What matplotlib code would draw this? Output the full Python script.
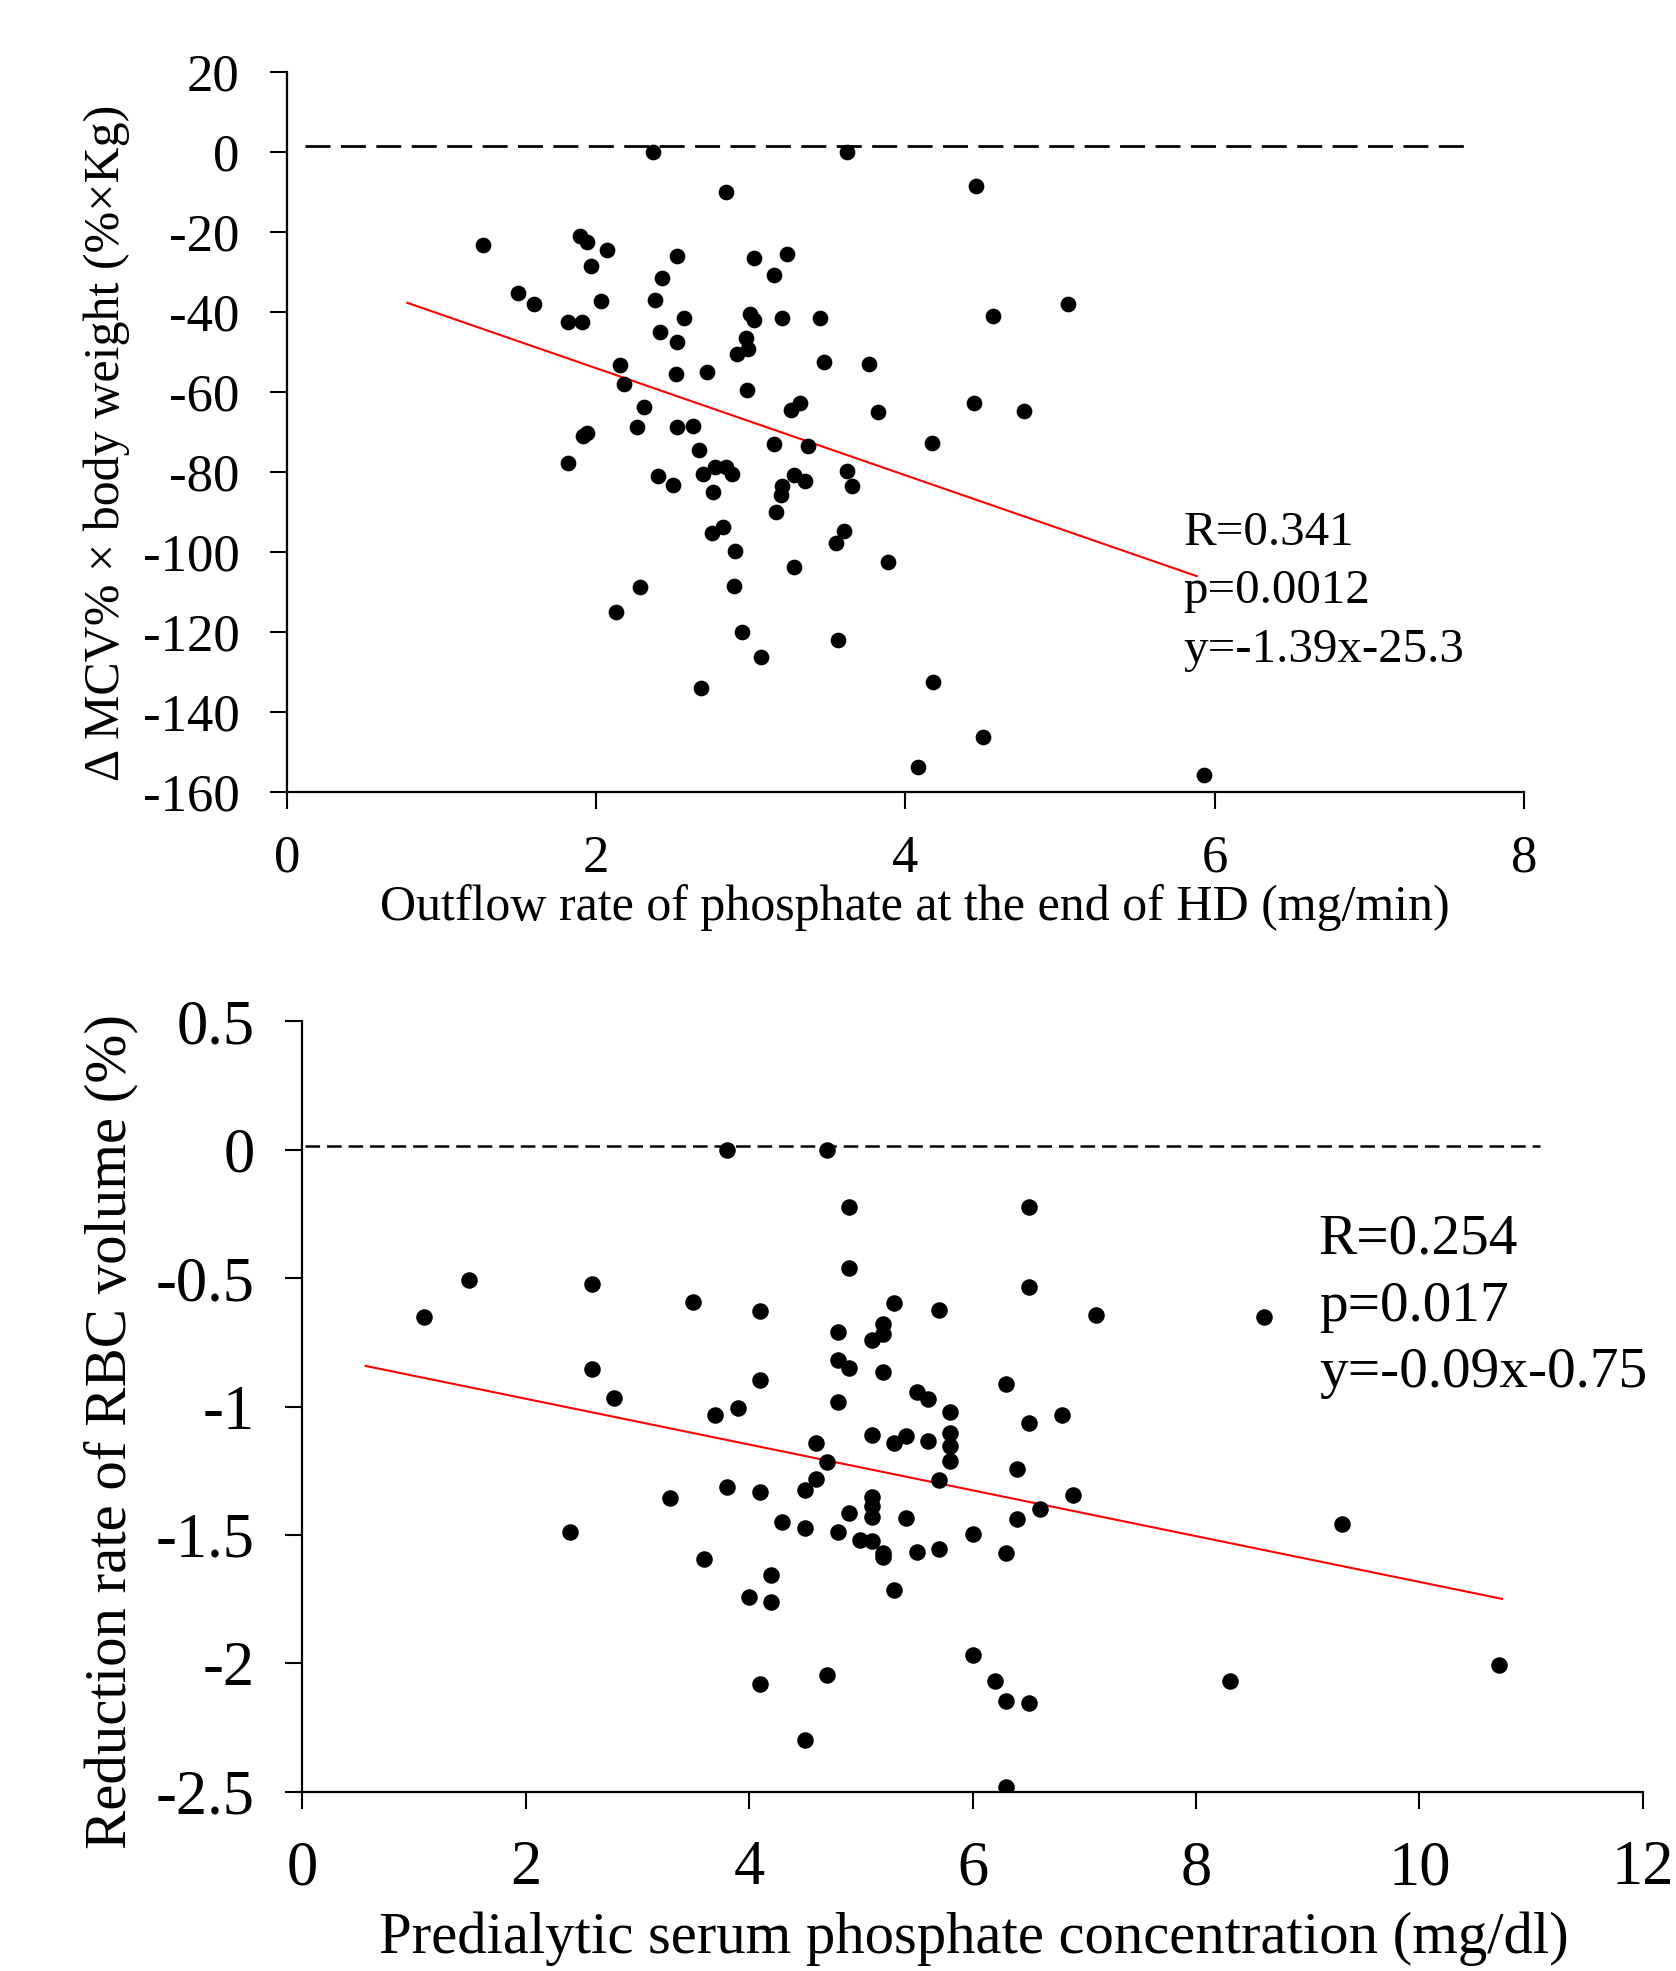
import matplotlib
matplotlib.use("Agg")
import matplotlib.pyplot as plt
import numpy as np

plt.rcParams['font.family'] = ['Liberation Serif', 'DejaVu Serif']
plt.rcParams['lines.scale_dashes'] = False

# ---------------- Top panel data ----------------
top_x = [2.370, 3.620, 2.838, 4.454, 1.267, 1.896, 1.943, 2.068, 1.967, 2.521,
         2.424, 3.023, 3.238, 3.152, 1.497, 1.600, 2.032, 2.381, 5.050, 1.820,
         1.911, 2.570, 2.995, 3.023, 3.204, 3.447, 4.568, 2.411, 2.521, 2.967,
         2.984, 2.909, 3.473, 3.764, 2.152, 2.518, 2.715, 2.180, 2.973, 3.316,
         3.260, 3.824, 4.447, 4.765, 2.312, 2.267, 2.521, 2.624, 1.913, 1.943,
         2.665, 3.148, 3.370, 4.171, 1.820, 2.398, 2.499, 2.693, 2.768, 2.840,
         2.881, 2.758, 3.282, 3.351, 3.200, 3.197, 3.161, 3.620, 3.656, 2.823,
         2.747, 2.898, 3.605, 3.549, 3.282, 3.889, 2.282, 2.889, 2.131, 2.941,
         3.566, 3.066, 2.676, 4.176, 4.503, 4.079, 5.930]
top_y = [0.0, 0.0, -10.1, -8.6, -23.2, -21.0, -22.4, -24.5, -28.4, -26.1,
         -31.4, -26.5, -25.5, -30.7, -35.3, -37.9, -37.2, -37.0, -38.0, -42.5,
         -42.5, -41.4, -40.5, -42.0, -41.4, -41.4, -41.0, -45.0, -47.4, -46.5,
         -49.2, -50.4, -52.4, -53.0, -53.2, -55.6, -54.9, -58.0, -59.6, -62.7,
         -64.5, -65.0, -62.8, -64.8, -63.8, -68.8, -68.8, -68.5, -70.9, -70.1,
         -74.4, -73.0, -73.5, -72.8, -77.7, -81.0, -83.1, -80.4, -78.8, -78.6,
         -80.4, -85.0, -80.7, -82.1, -83.4, -85.7, -90.0, -79.8, -83.4, -93.7,
         -95.3, -99.8, -94.8, -97.8, -103.8, -102.5, -108.8, -108.5, -115.0, -120.0,
         -122.0, -126.3, -134.0, -132.5, -146.3, -153.8, -155.8]
top_fit_x = [0.78, 5.885]
top_fit_y = [-37.7, -106.0]
top_ref_x = [0.12, 7.62]
top_ref_y = [1.5, 1.5]
top_stats = ["R=0.341", "p=0.0012", "y=-1.39x-25.3"]
top_xticks = [0, 2, 4, 6, 8]
top_yticks = [20, 0, -20, -40, -60, -80, -100, -120, -140, -160]
top_xlabel = "Outflow rate of phosphate at the end of HD (mg/min)"
top_ylabel = "\u0394 MCV% \u00d7 body weight (%\u00d7Kg)"

# ---------------- Bottom panel data ----------------
bot_x = [3.800, 4.695, 4.897, 6.503, 4.897, 1.495, 2.594, 6.503, 3.495, 5.297,
         5.700, 4.098, 7.106, 1.090, 8.610, 4.796, 5.202, 5.202, 5.100, 4.796,
         4.897, 2.594, 5.202, 4.098, 6.300, 2.793, 4.796, 5.500, 5.605, 3.898,
         3.695, 5.802, 6.801, 6.503, 5.100, 5.297, 5.402, 5.602, 5.802, 5.802,
         5.802, 4.596, 4.695, 4.596, 6.398, 5.700, 3.800, 4.098, 4.500, 6.903,
         5.097, 5.097, 5.097, 4.895, 5.402, 4.298, 4.500, 4.793, 4.993, 5.097,
         5.199, 5.199, 5.500, 5.700, 6.004, 6.398, 6.601, 6.300, 4.199, 3.999,
         4.199, 5.297, 6.004, 6.201, 6.300, 6.503, 4.098, 4.697, 4.500, 6.300,
         2.394, 3.292, 3.596, 9.308, 8.305, 10.711]
bot_y = [0.0, 0.0, -0.222, -0.223, -0.462, -0.506, -0.524, -0.535, -0.593, -0.597,
         -0.623, -0.628, -0.644, -0.653, -0.651, -0.711, -0.679, -0.718, -0.741, -0.819,
         -0.849, -0.855, -0.864, -0.898, -0.913, -0.968, -0.982, -0.943, -0.970, -1.007,
         -1.033, -1.021, -1.035, -1.064, -1.111, -1.142, -1.113, -1.135, -1.105, -1.155,
         -1.213, -1.142, -1.217, -1.281, -1.242, -1.288, -1.313, -1.333, -1.327, -1.346,
         -1.352, -1.386, -1.430, -1.414, -1.434, -1.448, -1.473, -1.488, -1.518, -1.525,
         -1.570, -1.588, -1.567, -1.553, -1.497, -1.438, -1.399, -1.571, -1.657, -1.743,
         -1.762, -1.714, -1.966, -2.070, -2.145, -2.156, -2.081, -2.045, -2.299, -2.481,
         -1.488, -1.358, -1.595, -1.457, -2.070, -2.005]
bot_fit_x = [0.567, 10.74]
bot_fit_y = [-0.842, -1.749]
bot_ref_x = [0.02, 11.08]
bot_ref_y = [0.015, 0.015]
bot_stats = ["R=0.254", "p=0.017", "y=-0.09x-0.75"]
bot_xticks = [0, 2, 4, 6, 8, 10, 12]
bot_yticks = [0.5, 0, -0.5, -1, -1.5, -2, -2.5]
bot_yticklabels = ["0.5", "0", "-0.5", "-1", "-1.5", "-2", "-2.5"]
bot_xlabel = "Predialytic serum phosphate concentration (mg/dl)"
bot_ylabel = "Reduction rate of RBC volume (%)"

W, H = 1676, 1971
fig = plt.figure(figsize=(W / 100, H / 100), dpi=100)


def style_axes(ax, fs, tick_pad_x, tick_pad_y):
    for s in ['top', 'right']:
        ax.spines[s].set_visible(False)
    for s in ['left', 'bottom']:
        ax.spines[s].set_linewidth(1.6)
        ax.spines[s].set_color('black')
    ax.tick_params(axis='both', direction='out', length=12, width=1.5,
                   labelsize=fs, colors='black')
    ax.tick_params(axis='x', pad=tick_pad_x)
    ax.tick_params(axis='y', pad=tick_pad_y)


# ---------------- Top panel ----------------
ax1 = fig.add_axes([286.7 / W, 1 - 792.3 / H, (1524 - 286.7) / W, 720.4 / H])
ax1.set_xlim(0, 8)
ax1.set_ylim(-160, 20)
ax1.plot(top_ref_x, top_ref_y, color='black', lw=2.0, dashes=(18, 7.5))
ax1.plot(top_fit_x, top_fit_y, color='red', lw=1.5)
ax1.scatter(top_x, top_y, s=128, color='black', zorder=3, linewidths=0)
ax1.set_xticks(top_xticks)
ax1.set_yticks(top_yticks)
ax1.set_yticklabels([str(v) for v in top_yticks])
style_axes(ax1, 38, 18.5, 22)
ax1.set_xlabel(top_xlabel, fontsize=36)
ax1.xaxis.label.set_va('center')
ax1.xaxis.set_label_coords(0.508, -0.160)
ax1.set_ylabel(top_ylabel, fontsize=36)
ax1.yaxis.label.set_va('center')
ax1.yaxis.set_label_coords(-0.1452, 0.485)
for txt, yv in zip(top_stats, [-98.1, -112.6, -127.4]):
    ax1.text(5.80, yv, txt, fontsize=35.3, va='baseline', ha='left')

# ---------------- Bottom panel ----------------
ax2 = fig.add_axes([302.3 / W, 1 - 1791.7 / H, (1642.7 - 302.3) / W, 770.4 / H])
ax2.set_xlim(0, 12)
ax2.set_ylim(-2.5, 0.5)
ax2.plot(bot_ref_x, bot_ref_y, color='black', lw=1.8, dashes=(10.5, 5))
ax2.plot(bot_fit_x, bot_fit_y, color='red', lw=1.5)
ax2.scatter(bot_x, bot_y, s=142, color='black', zorder=3, linewidths=0)
ax2.set_xticks(bot_xticks)
ax2.set_yticks(bot_yticks)
ax2.set_yticklabels(bot_yticklabels)
style_axes(ax2, 45, 23, 22)
ax2.set_xlabel(bot_xlabel, fontsize=42.2)
ax2.xaxis.label.set_va('center')
ax2.xaxis.set_label_coords(0.501, -0.191)
ax2.set_ylabel(bot_ylabel, fontsize=42.4)
ax2.yaxis.label.set_va('center')
ax2.yaxis.set_label_coords(-0.143, 0.468)
for txt, yv in zip(bot_stats, [-0.405, -0.668, -0.926]):
    ax2.text(9.10, yv, txt, fontsize=41.3, va='baseline', ha='left')

fig.savefig("out.png", dpi=100)
